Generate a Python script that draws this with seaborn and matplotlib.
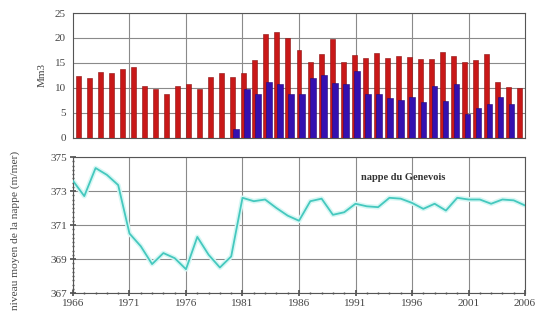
import numpy as np
import pandas as pd
import matplotlib
matplotlib.use("Agg")
import matplotlib.pyplot as plt
import seaborn as sns

# ── DATA ──────────────────────────────────────────────────────────────────────
years = list(range(1966, 2007))

# volumes (Mm3), red series = total, blue series = recharge (from 1980)
red_vol = [12.3, 12.0, 13.1, 13.0, 13.7, 14.1, 10.3, 9.7, 8.8, 10.3,
           10.7, 9.8, 12.1, 12.9, 12.2, 12.9, 15.5, 20.8, 21.2, 20.0,
           17.5, 15.2, 16.8, 19.8, 15.2, 16.5, 15.9, 17.0, 15.9, 16.3,
           16.1, 15.7, 15.8, 17.2, 16.3, 15.1, 15.5, 16.7, 11.1, 10.2, 9.9]
blue_vol = [np.nan] * 14 + [1.7, 9.7, 8.8, 11.1, 10.8, 8.7,
            8.7, 12.0, 12.5, 10.9, 10.7, 13.3, 8.7, 8.7, 7.9, 7.5,
            8.1, 7.1, 10.3, 7.3, 10.7, 4.8, 6.0, 6.7, 8.1, 6.8, np.nan]

# niveau moyen de la nappe (m/mer)
level = [373.6, 372.7, 374.35, 373.95, 373.35, 370.5, 369.75, 368.7, 369.35, 369.05,
         368.4, 370.3, 369.25, 368.5, 369.15, 372.6, 372.4, 372.5, 372.0, 371.55,
         371.25, 372.4, 372.55, 371.6, 371.75, 372.25, 372.1, 372.05, 372.6, 372.55,
         372.3, 371.95, 372.25, 371.85, 372.6, 372.5, 372.5, 372.25, 372.5, 372.45, 372.15]

df = pd.DataFrame({"year": years, "red": red_vol, "blue": blue_vol, "level": level})

# ── STYLE ─────────────────────────────────────────────────────────────────────
sns.set_theme(style="white")
plt.rcParams.update({"font.family": ["Liberation Serif", "DejaVu Serif"],
                     "axes.edgecolor": "#555555", "axes.linewidth": 0.8})
RED = "#c81818"
BLUE = "#3410b0"
TEAL = "#45c8be"
TXT = "#444444"
GRID = "#8a8a8a"

fig = plt.figure(figsize=(5.43, 3.21), dpi=100)
ax1 = fig.add_axes([0.1344, 0.5701, 0.8325, 0.3894])
ax2 = fig.add_axes([0.1344, 0.0872, 0.8325, 0.4237])

# ── TOP: BARS ─────────────────────────────────────────────────────────────────
df["blue_x"] = df["year"] + 0.27
sns.barplot(data=df, x="year", y="red", native_scale=True, color=RED,
            saturation=1, width=0.45, edgecolor="#8a1010", linewidth=0.4, ax=ax1, zorder=3)
sns.barplot(data=df.dropna(subset=["blue"]), x="blue_x", y="blue", native_scale=True,
            color=BLUE, saturation=1, width=0.5, edgecolor="#22087a", linewidth=0.4,
            ax=ax1, zorder=4)
ax1.set_xlim(1965.5, 2006.5)
ax1.set_ylim(0, 25)
ax1.set_yticks([0, 5, 10, 15, 20, 25])
# vertical grid aligned with the lower panel's 5-year ticks
ax1.set_xticks([1965.5 + 5 * 41 / 40 * k for k in range(1, 8)])
ax1.set_xticklabels([])
ax1.tick_params(axis="x", length=0)
ax1.tick_params(axis="y", labelsize=8, labelcolor=TXT, length=3, color="#555555", pad=2)
ax1.grid(True, color=GRID, linewidth=0.8, zorder=0)
ax1.set_axisbelow(True)
ax1.set_xlabel("")
ax1.set_ylabel("Mm3", fontsize=8, color=TXT, labelpad=6)

# ── BOTTOM: WATER TABLE LEVEL ────────────────────────────────────────────────
sns.lineplot(data=df, x="year", y="level", color="#d6f7f4", linewidth=3.5, ax=ax2, zorder=2)
sns.lineplot(data=df, x="year", y="level", color=TEAL, linewidth=1.3, ax=ax2, zorder=3)
ax2.set_xlim(1966, 2006)
ax2.set_ylim(367, 375)
ax2.set_xticks(range(1966, 2007, 5))
ax2.set_xticks(range(1966, 2007), minor=True)
ax2.set_yticks([367, 369, 371, 373, 375])
ax2.set_yticks(np.arange(367, 375.01, 0.25), minor=True)
ax2.tick_params(axis="both", which="major", labelsize=8, labelcolor=TXT, length=4,
                direction="inout", color="#555555", pad=2)
ax2.tick_params(axis="both", which="minor", length=2, direction="inout", color="#555555")
ax2.tick_params(axis="x", which="both", bottom=True)
ax2.tick_params(axis="y", which="both", left=True)
ax2.grid(True, which="major", color=GRID, linewidth=0.8, zorder=0)
ax2.set_xlabel("")
ax2.set_ylabel("niveau moyen de la nappe (m/mer)", fontsize=8.2, color=TXT)
ax2.yaxis.set_label_coords(-0.118, 0.46)
ax2.text(1995.2, 373.8, "nappe du Genevois", fontsize=7.5, fontweight="bold",
         color="#333333", ha="center", va="center")

plt.savefig("out.png", dpi=100)
